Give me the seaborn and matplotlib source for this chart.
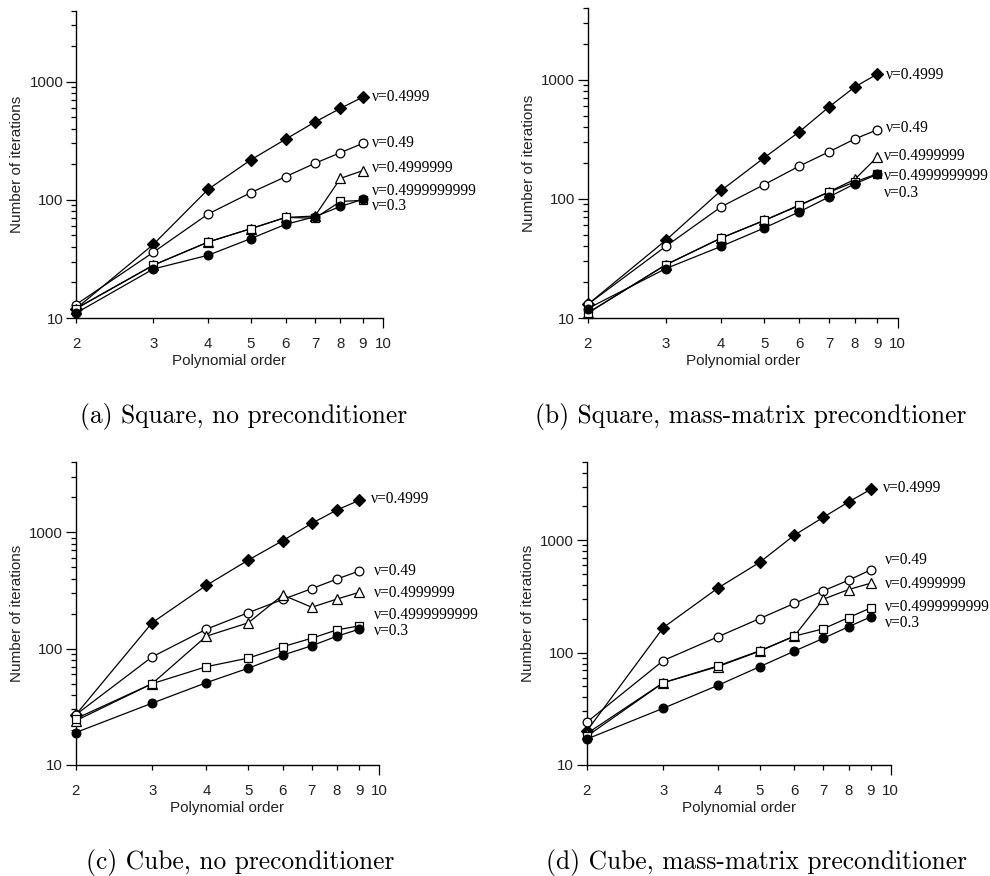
import matplotlib
matplotlib.use("Agg")
import matplotlib.pyplot as plt
import seaborn as sns
from matplotlib.ticker import LogLocator, NullFormatter

# Polynomial orders on the x axis
orders = [2, 3, 4, 5, 6, 7, 8, 9]
series_labels = ["ν=0.4999", "ν=0.49", "ν=0.4999999", "ν=0.4999999999", "ν=0.3"]

# (a) Square, no preconditioner
sq_plain_nu4999 = [12, 42, 123, 218, 326, 456, 595, 742]
sq_plain_nu49 = [13, 36, 76, 115, 157, 204, 251, 301]
sq_plain_nu4999999 = [12, 28, 44, 57, 71, 73, 152, 177]
sq_plain_nu4999999999 = [12, 28, 44, 57, 71, 70, 97, 99]
sq_plain_nu3 = [11, 26, 34, 47, 62, 72, 88, 101]

# (b) Square, mass-matrix preconditioner
sq_mass_nu4999 = [13, 45, 118, 222, 367, 593, 873, 1122]
sq_mass_nu49 = [13, 40, 86, 132, 189, 249, 319, 382]
sq_mass_nu4999999 = [11, 28, 47, 66, 88, 115, 146, 226]
sq_mass_nu4999999999 = [11, 28, 47, 66, 89, 114, 139, 163]
sq_mass_nu3 = [12, 26, 40, 57, 78, 104, 134, 161]

# (c) Cube, no preconditioner
cube_plain_nu4999 = [27, 167, 350, 578, 848, 1195, 1556, 1884]
cube_plain_nu49 = [27, 85, 147, 204, 265, 328, 397, 465]
cube_plain_nu4999999 = [24, 50, 128, 167, 289, 227, 267, 305]
cube_plain_nu4999999999 = [25, 50, 70, 83, 104, 123, 145, 157]
cube_plain_nu3 = [19, 34, 51, 68, 88, 106, 128, 147]

# (d) Cube, mass-matrix preconditioner
cube_mass_nu4999 = [20, 167, 374, 637, 1107, 1601, 2191, 2840]
cube_mass_nu49 = [24, 85, 138, 201, 274, 355, 441, 545]
cube_mass_nu4999999 = [19, 54, 75, 103, 140, 299, 364, 415]
cube_mass_nu4999999999 = [18, 54, 76, 104, 140, 163, 205, 250]
cube_mass_nu3 = [17, 32, 51, 75, 103, 134, 170, 208]

captions = [
    "(a) Square, no preconditioner",
    "(b) Square, mass-matrix precondtioner",
    "(c) Cube, no preconditioner",
    "(d) Cube, mass-matrix preconditioner",
]

sns.set_theme(style="ticks")
plt.rcParams["font.family"] = ["Liberation Sans", "DejaVu Sans"]

W, H = 990, 876
fig = plt.figure(figsize=(W / 100, H / 100), dpi=100)

# marker styles per series: (marker, size, filled)
marker_styles = [("D", 6.3, True), ("o", 6.3, False), ("^", 6.8, False),
                 ("s", 5.8, False), ("o", 6.3, True)]

panels = [
    dict(series=[sq_plain_nu4999, sq_plain_nu49, sq_plain_nu4999999,
                 sq_plain_nu4999999999, sq_plain_nu3],
         box=(76, 10.6, 383, 318), ytop=4000,
         lab_x=[9.43] * 5, lab_y=[747, 305, 185, 120, 88],
         cap=(244, 416)),
    dict(series=[sq_mass_nu4999, sq_mass_nu49, sq_mass_nu4999999,
                 sq_mass_nu4999999999, sq_mass_nu3],
         box=(587.7, 8.3, 897.7, 318), ytop=4000,
         lab_x=[9.41, 9.41, 9.33, 9.33, 9.33], lab_y=[1102, 397, 229, 156, 113],
         cap=(751, 416)),
    dict(series=[cube_plain_nu4999, cube_plain_nu49, cube_plain_nu4999999,
                 cube_plain_nu4999999999, cube_plain_nu3],
         box=(75.7, 462.3, 379, 765), ytop=4000,
         lab_x=[9.57, 9.75, 9.75, 9.75, 9.75], lab_y=[1922, 468, 303, 195, 142],
         cap=(240, 862)),
    dict(series=[cube_mass_nu4999, cube_mass_nu49, cube_mass_nu4999999,
                 cube_mass_nu4999999999, cube_mass_nu3],
         box=(586.7, 461.7, 890.7, 765), ytop=5000,
         lab_x=[9.61, 9.72, 9.72, 9.72, 9.72], lab_y=[2918, 664, 412, 255, 185],
         cap=(756, 862)),
]

for k, p in enumerate(panels):
    l, t, r, b = p["box"]
    ax = fig.add_axes([l / W, 1 - b / H, (r - l) / W, (b - t) / H])
    for vals, (mk, ms, filled) in zip(p["series"], marker_styles):
        sns.lineplot(x=orders, y=vals, ax=ax, color="black", linewidth=0.9,
                     marker=mk, markersize=ms,
                     markerfacecolor="black" if filled else "white",
                     markeredgecolor="black", markeredgewidth=0.9,
                     clip_on=False, zorder=3)
    for name, lx, ly in zip(series_labels, p["lab_x"], p["lab_y"]):
        ax.text(lx, ly, name, fontfamily=["Liberation Serif", "DejaVu Serif"],
                fontsize=11.2, ha="left", va="center", color="black")

    ax.set_xscale("log")
    ax.set_yscale("log")
    ax.set_xlim(2, 10)
    ax.set_ylim(10, p["ytop"])

    ax.set_xticks([10])
    ax.set_xticklabels(["10"])
    ax.set_xticks(orders, minor=True)
    ax.set_xticklabels([str(o) for o in orders], minor=True)

    ax.set_yticks([10, 100, 1000])
    ax.set_yticklabels(["10", "100", "1000"])
    ax.yaxis.set_minor_locator(LogLocator(base=10, subs=range(2, 10)))
    ax.yaxis.set_minor_formatter(NullFormatter())

    ax.tick_params(axis="both", which="major", length=7, width=0.9,
                   direction="out", color="black", labelsize=10.8,
                   labelcolor="#222222")
    ax.tick_params(axis="both", which="minor", length=3.5, width=0.9,
                   direction="out", color="black", labelsize=10.8,
                   labelcolor="#222222")
    ax.tick_params(axis="x", which="major", pad=7)
    ax.tick_params(axis="x", which="minor", pad=10.5)
    ax.tick_params(axis="y", which="major", pad=2)

    for side in ("top", "right"):
        ax.spines[side].set_visible(False)
    for side in ("left", "bottom"):
        ax.spines[side].set_linewidth(1.0)
        ax.spines[side].set_color("black")
    ax.set_facecolor("white")
    ax.grid(False)

    ax.set_xlabel("Polynomial order", fontsize=11, color="#222222")
    ax.xaxis.label.set_verticalalignment("center")
    ax.xaxis.set_label_coords(0.5, -43 / (b - t))
    ax.set_ylabel("Number of iterations", fontsize=11, color="#222222")
    ax.yaxis.label.set_verticalalignment("center")
    ax.yaxis.set_label_coords(-59 / (r - l), 0.5)

    cx, cy = p["cap"]
    fig.text(cx / W, 1 - cy / H, captions[k], fontfamily=["cmr10", "DejaVu Serif"],
             fontsize=18.3, ha="center", va="center", color="black")

fig.savefig("out.png", dpi=100, facecolor="white")
